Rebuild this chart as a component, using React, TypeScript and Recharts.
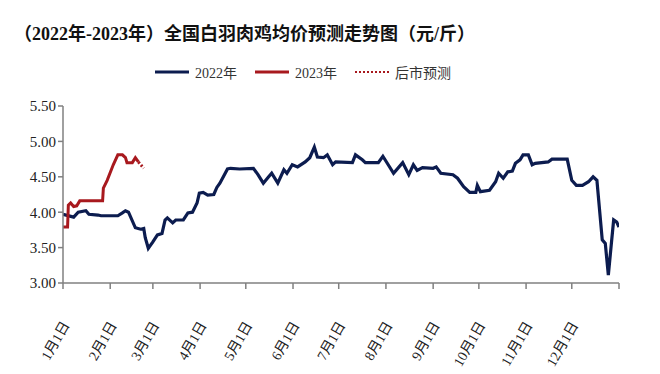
import { Line, LineChart, XAxis, YAxis } from 'recharts'

const monthTicks = [0, 31, 59, 90, 120, 151, 181, 212, 243, 273, 304, 334, 365]
const monthLabels = ['1月1日', '2月1日', '3月1日', '4月1日', '5月1日', '6月1日', '7月1日', '8月1日', '9月1日', '10月1日', '11月1日', '12月1日', '']
const priceTicks = [3, 3.5, 4, 4.5, 5, 5.5]

// 2022 full year (day of year, yuan/jin)
const days2022 = [
  0, 7, 10, 15, 17, 23, 25, 36, 39, 41, 43, 47.5, 51, 53, 54, 56, 59, 62, 65, 67, 68.5, 72, 74, 79, 82, 85, 88, 89.5,
  92, 95, 99, 101, 103, 108, 110, 116, 125, 128, 131.5, 135, 137, 141, 145, 147, 150.5, 154, 159, 162, 165, 167, 171,
  173.5, 177, 179, 190, 192, 196.5, 198.5, 207, 210, 213.5, 217, 223, 227, 230, 232.5, 236, 243, 245, 248, 256, 259,
  263, 267, 271, 272, 274, 280, 284, 286, 289, 292, 295, 297, 300, 302, 305.5, 308, 310, 318.5, 321, 331, 334, 337,
  341, 345, 348, 350.5, 354, 356, 358, 360, 361.5, 363.5, 365,
]
const price2022 = [
  3.97, 3.93, 4.0, 4.02, 3.97, 3.96, 3.95, 3.95, 3.99, 4.02, 4.0, 3.78, 3.76, 3.77, 3.64, 3.49, 3.58, 3.68, 3.7, 3.89,
  3.92, 3.85, 3.89, 3.89, 3.99, 4.0, 4.13, 4.27, 4.28, 4.24, 4.25, 4.35, 4.41, 4.61, 4.62, 4.61, 4.62, 4.53, 4.41, 4.5,
  4.55, 4.41, 4.6, 4.55, 4.67, 4.64, 4.71, 4.77, 4.92, 4.78, 4.77, 4.81, 4.67, 4.71, 4.7, 4.81, 4.74, 4.7, 4.7, 4.79,
  4.67, 4.55, 4.7, 4.53, 4.67, 4.59, 4.63, 4.62, 4.64, 4.55, 4.53, 4.48, 4.36, 4.28, 4.28, 4.38, 4.29, 4.31, 4.43, 4.55,
  4.48, 4.57, 4.58, 4.69, 4.74, 4.81, 4.81, 4.67, 4.69, 4.71, 4.75, 4.75, 4.45, 4.38, 4.38, 4.43, 4.5, 4.45, 3.61, 3.56,
  3.11, 3.56, 3.89, 3.86, 3.79,
]

// 2023 actual
const days2023 = [0, 3, 3.5, 5, 7, 9, 11, 26, 26.5, 29, 33, 36, 39, 41, 42, 45.5, 47.5, 49.5]
const price2023 = [3.79, 3.79, 4.1, 4.13, 4.08, 4.09, 4.16, 4.16, 4.34, 4.45, 4.67, 4.81, 4.81, 4.77, 4.7, 4.7, 4.77, 4.71]

// forecast
const daysForecast = [49.5, 53]
const priceForecast = [4.71, 4.62]

const toSeries = (days: number[], prices: number[]) => days.map((day, i) => ({ day, price: prices[i] }))

const BLUE = '#0c1c4f'
const RED = '#a8191e'
const AXIS = '#808080'
const FONT = '"Liberation Serif", "Noto Sans CJK SC", serif'

function MonthTick({ x, y, index }: any) {
  const label = monthLabels[index] ?? ''
  if (!label) return null
  const ax = x + 7
  const ay = y + 34
  return (
    <text
      x={ax}
      y={ay}
      transform={`rotate(-60, ${ax}, ${ay})`}
      textAnchor="end"
      fontSize={14}
      fill="#222"
      fontFamily={FONT}
    >
      {label}
    </text>
  )
}

function LegendItem({ color, dotted, label, width }: { color: string; dotted?: boolean; label: string; width: number }) {
  return (
    <div style={{ display: 'flex', alignItems: 'center', width }}>
      <svg width={34} height={6} style={{ marginRight: 6 }}>
        <line x1={0} y1={3} x2={34} y2={3} stroke={color} strokeWidth={dotted ? 2 : 3} strokeDasharray={dotted ? '2 2' : undefined} />
      </svg>
      <span style={{ fontSize: 14, color: '#333', fontFamily: FONT }}>{label}</span>
    </div>
  )
}

export default function App() {
  return (
    <div style={{ position: 'absolute', left: 0, top: 0, width: 660, height: 374, background: '#fff' }}>
      <div
        style={{
          position: 'absolute',
          left: 14,
          top: 19,
          fontSize: 18,
          fontWeight: 'bold',
          fontFamily: FONT,
          color: '#111',
          whiteSpace: 'nowrap',
        }}
      >
        （2022年-2023年）全国白羽肉鸡均价预测走势图（元/斤）
      </div>
      <div style={{ position: 'absolute', left: 155, top: 62, display: 'flex' }}>
        <LegendItem color={BLUE} label="2022年" width={100} />
        <LegendItem color={RED} label="2023年" width={100} />
        <LegendItem color={RED} dotted label="后市预测" width={110} />
      </div>
      <LineChart width={660} height={374} margin={{ top: 106, right: 41, left: 8, bottom: 40 }}>
        <XAxis
          dataKey="day"
          type="number"
          domain={[0, 365]}
          ticks={monthTicks}
          interval={0}
          tick={<MonthTick />}
          tickSize={6}
          height={51}
          axisLine={{ stroke: AXIS, strokeWidth: 1.5 }}
          tickLine={{ stroke: AXIS, strokeWidth: 1.5 }}
          allowDataOverflow
        />
        <YAxis
          type="number"
          domain={[3, 5.5]}
          ticks={priceTicks}
          interval={0}
          width={55}
          tickSize={5}
          tickFormatter={(v: number) => v.toFixed(2)}
          tick={{ fontSize: 15, fill: '#222', fontFamily: FONT }}
          axisLine={{ stroke: AXIS, strokeWidth: 1.5 }}
          tickLine={{ stroke: AXIS, strokeWidth: 1.5 }}
        />
        <Line
          data={toSeries(days2022, price2022)}
          dataKey="price"
          type="linear"
          stroke={BLUE}
          strokeWidth={3.2}
          dot={false}
          isAnimationActive={false}
        />
        <Line
          data={toSeries(days2023, price2023)}
          dataKey="price"
          type="linear"
          stroke={RED}
          strokeWidth={3}
          dot={false}
          isAnimationActive={false}
        />
        <Line
          data={toSeries(daysForecast, priceForecast)}
          dataKey="price"
          type="linear"
          stroke={RED}
          strokeWidth={3}
          strokeDasharray="2 2"
          dot={false}
          isAnimationActive={false}
        />
      </LineChart>
    </div>
  )
}
